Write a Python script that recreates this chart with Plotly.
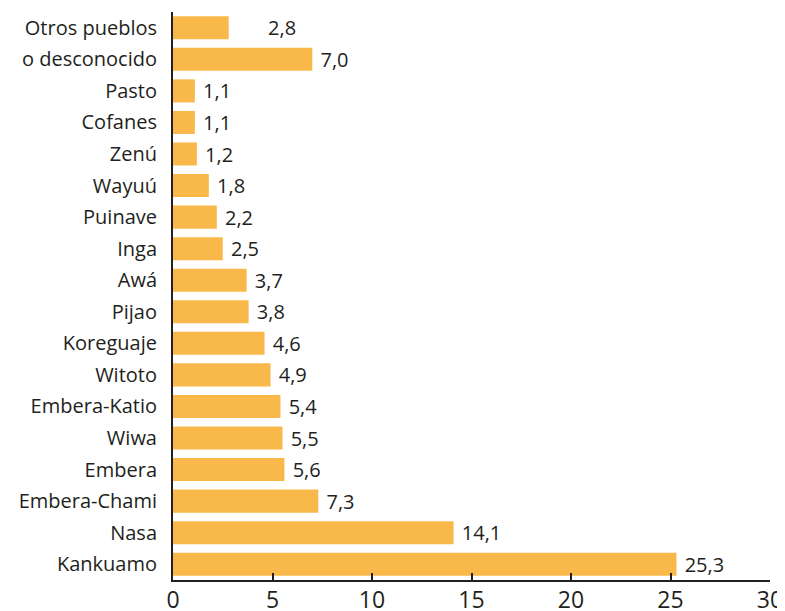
import plotly.graph_objects as go

categories = ["Kankuamo", "Nasa", "Embera-Chami", "Embera", "Wiwa", "Embera-Katio",
              "Witoto", "Koreguaje", "Pijao", "Awá", "Inga", "Puinave", "Wayuú",
              "Zenú", "Cofanes", "Pasto", "o desconocido", "Otros pueblos"]
values = [25.3, 14.1, 7.3, 5.6, 5.5, 5.4, 4.9, 4.6, 3.8, 3.7, 2.5, 2.2, 1.8,
          1.2, 1.1, 1.1, 7.0, 2.8]
value_labels = ["25,3", "14,1", "7,3", "5,6", "5,5", "5,4", "4,9", "4,6", "3,8",
                "3,7", "2,5", "2,2", "1,8", "1,2", "1,1", "1,1", "7,0", "2,8"]
x_ticks = [0, 5, 10, 15, 20, 25, 30]

text = [" " + t for t in value_labels]
text[-1] = "       " + value_labels[-1]

ink = "#231F20"
fig = go.Figure(go.Bar(
    y=categories, x=values, orientation="h",
    marker=dict(color="#F9B84A", line=dict(width=0)),
    text=text, textposition="outside", cliponaxis=False, constraintext="none",
    textfont=dict(size=20, color=ink),
))
# the page body has an 8px margin, so the figure is 8px smaller on each axis
fig.update_layout(
    width=777, height=603,
    margin=dict(l=165, r=15, t=4, b=31),
    plot_bgcolor="white", paper_bgcolor="white",
    font=dict(family="Open Sans, sans-serif", color=ink),
    bargap=0.27, showlegend=False,
)
fig.update_xaxes(range=[0, 30], tickvals=x_ticks, ticktext=[str(v) for v in x_ticks],
                 automargin=False,
                 showgrid=False, zeroline=False, showline=True, linecolor=ink,
                 linewidth=2, ticks="inside", ticklen=7, tickwidth=1.5, tickcolor=ink,
                 ticklabelstandoff=-2,
                 tickfont=dict(size=23, color=ink))
fig.update_yaxes(categoryorder="array", categoryarray=categories, automargin=False,
                 range=[-0.5, 17.5], showgrid=False, zeroline=False, showline=True,
                 linecolor=ink, linewidth=2, ticks="", ticklabelstandoff=10,
                 tickfont=dict(size=20, color=ink))
fig.write_html("out.html")
